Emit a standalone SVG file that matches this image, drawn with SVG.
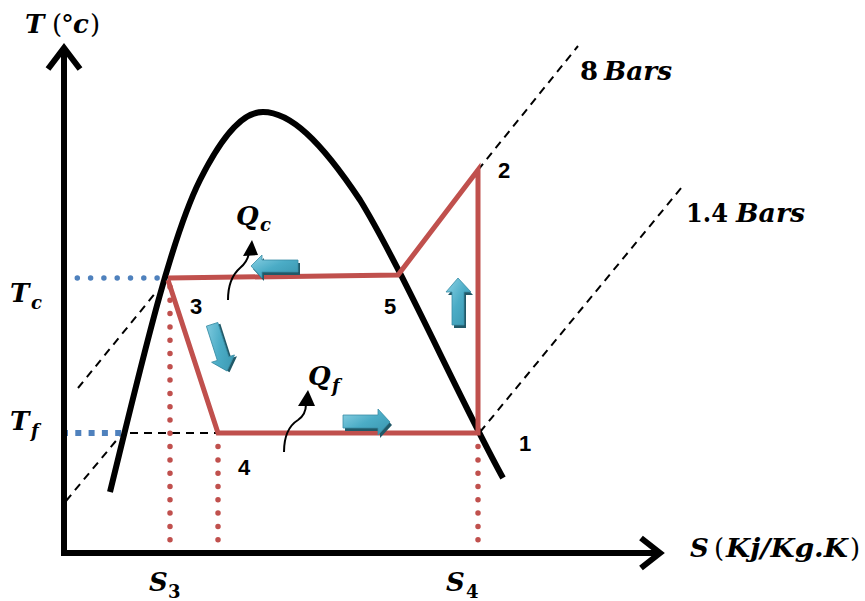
<svg xmlns="http://www.w3.org/2000/svg" width="865" height="601" viewBox="0 0 865 601">
  <defs>
    <style>
      .axis{stroke:#000;stroke-width:6;fill:none;stroke-linejoin:miter}
      .dome{stroke:#000;stroke-width:6;fill:none;stroke-linecap:butt}
      .cycle{stroke:#c0504d;stroke-width:5;fill:none;stroke-linejoin:miter}
      .isobar{stroke:#000;stroke-width:2;fill:none;stroke-dasharray:8 6}
      .reddot{stroke:#c0504d;stroke-width:5.5;fill:none;stroke-linecap:round;stroke-dasharray:0 13.3}
      .bluedot{stroke:#4f81bd;stroke-width:5.5;fill:none;stroke-linecap:round;stroke-dasharray:0 13.3}
      .bluesq{stroke:#4f81bd;stroke-width:6;fill:none;stroke-dasharray:6 7.3}
      .heat{stroke:#000;stroke-width:2;fill:none}
      .num{font-family:"Liberation Sans",Arial,sans-serif;font-weight:bold;font-size:22px;fill:#000}
      .math{font-family:"DejaVu Serif","Liberation Serif",serif;font-weight:bold;font-style:italic;font-size:26px;fill:#000}
      .up{font-style:normal;font-weight:normal}
      .ub{font-style:normal;font-weight:bold}
      .sub{font-size:18px}
      .shadow{fill:#215968}
      .blk{fill:url(#bg);stroke:#3a8ea6;stroke-width:0.8}
    </style>
    <linearGradient id="bg" x1="0" y1="0" x2="1" y2="1">
      <stop offset="0" stop-color="#8fd3e6"/>
      <stop offset="0.5" stop-color="#4bacc6"/>
      <stop offset="1" stop-color="#3894ad"/>
    </linearGradient>
  </defs>

  <g id="isobars">
    <path class="isobar" d="M78,388 L157,291"/>
    <path class="isobar" d="M478,170 L578,46"/>
    <path class="isobar" d="M66,501 L120,436"/>
    <path class="isobar" d="M130,433 L218,433"/>
    <path class="isobar" d="M480,432 L682,187"/>
  </g>

  <g id="guides">
    <path class="bluedot" d="M64,278 L168,278"/>
    <path class="bluesq" d="M62,433 L124,433"/>
    <path class="reddot" d="M170,553 L170,286"/>
    <path class="reddot" d="M218,553 L218,440"/>
    <path class="reddot" d="M478,553 L478,440"/>
  </g>

  <g id="axes">
    <path class="axis" d="M64,50 L64,553 L658,553"/>
    <path class="axis" d="M48,69 L64,48 L80,69"/>
    <path class="axis" d="M641,538 L660,553 L641,568"/>
  </g>

  <g id="dome">
    <path class="dome" d="M110,492 C140,370 170,240 200,180 C225,130 245,112 263,112 C290,112 320,140 360,200 C400,265 460,400 503,478"/>
  </g>

  <g id="cycle">
    <path class="cycle" d="M168,278 L398,275 L478,170 L478,433 L218,433 L168,280"/>
  </g>

  <g id="flow-arrows">
    <g id="arrow-left">
      <polygon class="shadow" points="253,269 264,258 264,263 300,263 300,275 264,275 264,281"/>
      <polygon class="blk" points="251,266 262,255 262,260 298,260 298,272 262,272 262,278"/>
    </g>
    <g id="arrow-right">
      <polygon class="shadow" points="392,425 380,412 380,418 345,418 345,431 380,431 380,438"/>
      <polygon class="blk" points="390,422 378,409 378,415 343,415 343,428 378,428 378,435"/>
    </g>
    <g id="arrow-up">
      <polygon class="shadow" points="460,281 448,295 454,295 454,328 466,328 466,295 473,295"/>
      <polygon class="blk" points="458,278 446,292 452,292 452,325 464,325 464,292 471,292"/>
    </g>
    <g id="arrow-down" transform="translate(227,371) rotate(-17.7)">
      <polygon class="shadow" transform="translate(2,2)" points="0,0 -12,-13 -6,-13 -6,-49 6,-49 6,-13 12,-13"/>
      <polygon class="blk" points="0,0 -12,-13 -6,-13 -6,-49 6,-49 6,-13 12,-13"/>
    </g>
  </g>

  <g id="heat-arrows">
    <g id="qc-arrow">
      <path class="heat" d="M228,300 C228,285 232,275 240,268 C246,263 248,259 249,253"/>
      <polygon points="252,240 243,256 258,255" fill="#000"/>
    </g>
    <g id="qf-arrow">
      <path class="heat" d="M284,452 C284,435 290,425 298,420 C304,416 306,411 306,404"/>
      <polygon points="308,390 298,406 315,406" fill="#000"/>
    </g>
  </g>

  <g id="point-labels">
    <text class="num" x="190" y="314">3</text>
    <text class="num" x="384" y="314">5</text>
    <text class="num" x="498" y="178">2</text>
    <text class="num" x="519" y="451">1</text>
    <text class="num" x="238" y="475">4</text>
  </g>

  <g id="axis-labels">
    <text class="math" y="33"><tspan x="25">T</tspan><tspan class="up" x="52">(</tspan><tspan class="up" x="61">°</tspan><tspan x="73">c</tspan><tspan class="up" x="90">)</tspan></text>
    <text class="math" y="557"><tspan x="690">S</tspan><tspan class="up" x="714">(</tspan><tspan x="726" textLength="122" lengthAdjust="spacingAndGlyphs">Kj/Kg.K</tspan><tspan class="up" x="850">)</tspan></text>
    <text class="math" y="302"><tspan x="10">T</tspan><tspan class="sub" x="31" y="309">c</tspan></text>
    <text class="math" y="430"><tspan x="10">T</tspan><tspan class="sub" x="31" y="437">f</tspan></text>
    <text class="math" y="591"><tspan x="149">S</tspan><tspan class="sub ub" x="168" y="598">3</tspan></text>
    <text class="math" y="591"><tspan x="446">S</tspan><tspan class="sub ub" x="466" y="598">4</tspan></text>
  </g>

  <g id="heat-labels">
    <text class="math" y="225"><tspan x="236">Q</tspan><tspan class="sub" x="260" y="231">c</tspan></text>
    <text class="math" y="385"><tspan x="308">Q</tspan><tspan class="sub" x="332" y="392">f</tspan></text>
  </g>

  <g id="isobar-labels">
    <text class="math" y="80"><tspan class="ub" x="580">8</tspan><tspan x="604" textLength="68" lengthAdjust="spacingAndGlyphs">Bars</tspan></text>
    <text class="math" y="222"><tspan class="ub" x="686" textLength="42" lengthAdjust="spacingAndGlyphs">1.4</tspan><tspan x="736" textLength="69" lengthAdjust="spacingAndGlyphs">Bars</tspan></text>
  </g>
</svg>
